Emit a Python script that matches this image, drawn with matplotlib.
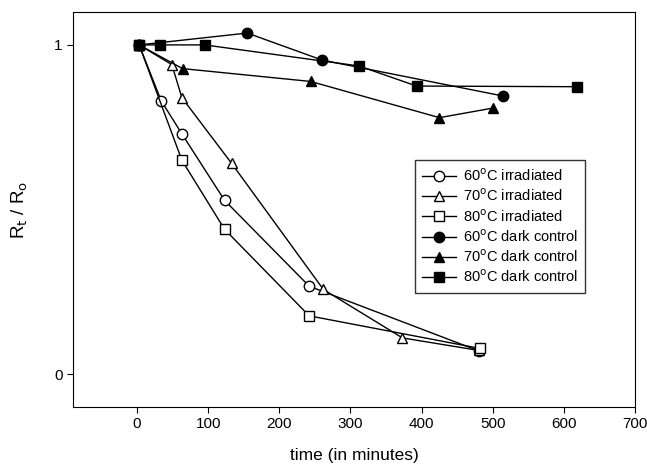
import numpy as np
import matplotlib.pyplot as plt

plt.rcParams['font.family'] = ['Liberation Sans', 'DejaVu Sans']

# datos
t_60_irr = [3, 34, 63, 123, 242, 481]
r_60_irr = [1.0, 0.83, 0.73, 0.528, 0.267, 0.07]
t_70_irr = [3, 49, 63, 133, 262, 373, 480]
r_70_irr = [1.0, 0.94, 0.84, 0.64, 0.257, 0.11, 0.072]
t_80_irr = [3, 63, 123, 242, 482]
r_80_irr = [1.0, 0.65, 0.44, 0.177, 0.078]
t_60_dark = [3, 155, 260, 514]
r_60_dark = [1.0, 1.036, 0.954, 0.845]
t_70_dark = [3, 64, 244, 425, 500]
r_70_dark = [1.0, 0.928, 0.889, 0.779, 0.808]
t_80_dark = [3, 33, 95, 312, 393, 619]
r_80_dark = [1.0, 1.0, 1.0, 0.936, 0.875, 0.873]

fig = plt.figure(figsize=(6.47, 4.70), dpi=100)
ax = fig.add_axes([0.1128, 0.134, 0.8687, 0.8405])

kw = dict(color='black', lw=1.0, ms=7.5, mec='black', mew=1.0)
ax.plot(t_60_irr, r_60_irr, marker='o', mfc='white', label='60$^{\\rm o}$C irradiated', **kw)
ax.plot(t_70_irr, r_70_irr, marker='^', mfc='white', label='70$^{\\rm o}$C irradiated', **kw)
ax.plot(t_80_irr, r_80_irr, marker='s', mfc='white', label='80$^{\\rm o}$C irradiated', **kw)
ax.plot(t_60_dark, r_60_dark, marker='o', mfc='black', label='60$^{\\rm o}$C dark control', **kw)
ax.plot(t_70_dark, r_70_dark, marker='^', mfc='black', label='70$^{\\rm o}$C dark control', **kw)
ax.plot(t_80_dark, r_80_dark, marker='s', mfc='black', label='80$^{\\rm o}$C dark control', **kw)

ax.set_xlim(-90, 700)
ax.set_ylim(-0.1, 1.1)
ax.set_xticks(np.arange(0, 701, 100))
ax.set_yticks([0, 1])
ax.set_yticklabels(['0', '1'])
ax.tick_params(direction='out', length=4, labelsize=11, top=False, right=False)
ax.set_xlabel('time (in minutes)', fontsize=12.5, labelpad=12)
ax.set_ylabel('R$_{\\rm t}$ / R$_{\\rm o}$', fontsize=13.5, labelpad=17)

leg = ax.legend(loc='upper left', bbox_to_anchor=(0.608, 0.625), borderaxespad=0,
                fontsize=10.5, frameon=True, fancybox=False, edgecolor='black',
                handlelength=2.3, borderpad=0.5, labelspacing=0.25, handletextpad=0.5)
leg.get_frame().set_linewidth(1.0)

fig.savefig('out.png', dpi=100)
